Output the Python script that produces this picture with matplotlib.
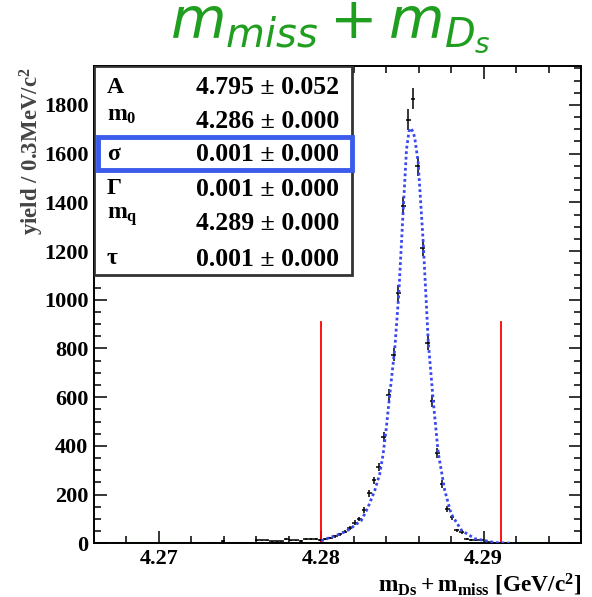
import matplotlib
matplotlib.use("Agg")
import matplotlib.pyplot as plt
import numpy as np
from matplotlib.patches import Rectangle
from matplotlib.ticker import MultipleLocator

plt.rcParams["mathtext.fontset"] = "custom"
plt.rcParams["mathtext.rm"] = "Liberation Serif:bold"
plt.rcParams["mathtext.it"] = "Liberation Serif:bold"
plt.rcParams["mathtext.bf"] = "Liberation Serif:bold"

# histogram: 100 bins of 0.3 MeV starting at 4.266 GeV
bin_lo = 4.266
bin_width = 0.0003
counts = [
    0, 0, 0, 0, 0, 0, 0, 0, 0, 0,
    0, 0, 0, 0, 0, 0, 0, 0, 1, 1,
    0, 0, 0, 1, 1, 0, 10, 3, 0, 2,
    2, 2, 2, 12, 12, 12, 8, 8, 8, 18,
    12, 12, 10, 18, 18, 18, 15, 19, 22, 28,
    38, 48, 62, 85, 100, 137, 205, 258, 313, 436,
    610, 775, 1027, 1385, 1740, 1825, 1548, 1213, 822, 583,
    371, 244, 142, 106, 53, 46, 19, 15, 12, 15,
    5, 5, 3, 0, 0, 0, 0, 0, 0, 0,
    0, 0, 0, 0, 0, 0, 0, 0, 0, 0,
]

# fit curve
fit_x = [4.2800, 4.28062, 4.28123, 4.28175, 4.28247, 4.28288, 4.28329, 4.28360,
         4.28381, 4.28400, 4.28422, 4.28453, 4.28477, 4.28504, 4.28525, 4.28540,
         4.28551, 4.28565, 4.28576, 4.28597, 4.28628, 4.28659, 4.28690, 4.28720,
         4.28761, 4.28800, 4.28864, 4.28946, 4.29070, 4.29180]
fit_y = [10, 26, 40, 58, 94, 148, 216, 284,
         366, 470, 611, 801, 1019, 1359, 1617, 1690,
         1705, 1690, 1665, 1563, 1236, 828, 583, 373,
         216, 121, 53, 19, 3, 0]

cut_lines = [4.2800, 4.2911]
cut_height = 910

stat_names = ["A", r"$\mathrm{m_0}$", "σ", "Γ", r"$\mathrm{m_q}$", "τ"]
stat_values = ["4.795 ± 0.052", "4.286 ± 0.000", "0.001 ± 0.000",
               "0.001 ± 0.000", "4.289 ± 0.000", "0.001 ± 0.000"]

serif = "Liberation Serif"

counts = np.asarray(counts, dtype=float)
centers = bin_lo + bin_width * (np.arange(len(counts)) + 0.5)
keep = counts > 0

fig = plt.figure(figsize=(5.92, 5.97), dpi=100)
ax = fig.add_axes([94 / 592, 1 - 543.3 / 597, 487 / 592, 477.3 / 597])

ax.axhline(0, color="#33ee33", lw=2.2, zorder=1)
ax.errorbar(centers[keep], counts[keep], yerr=np.sqrt(counts[keep]),
            xerr=bin_width / 2, fmt="none", ecolor="black", elinewidth=1.1, zorder=3)
ax.plot(fit_x, fit_y, color="#3a48f0", lw=2, dashes=(1, 1), zorder=4)
for xc in cut_lines:
    ax.plot([xc, xc], [0, cut_height], color="red", lw=1.3, zorder=2)

ax.set_xlim(4.266, 4.296)
ax.set_ylim(0, 1960)
ax.xaxis.set_major_locator(MultipleLocator(0.01))
ax.xaxis.set_minor_locator(MultipleLocator(0.002))
ax.yaxis.set_major_locator(MultipleLocator(200))
ax.yaxis.set_minor_locator(MultipleLocator(50))
ax.tick_params(which="both", direction="in", top=True, right=True, width=1.1)
ax.tick_params(which="major", length=9, labelsize=16, pad=4)
ax.tick_params(which="minor", length=5)
for lab in ax.get_xticklabels() + ax.get_yticklabels():
    lab.set_fontfamily(serif)
    lab.set_fontweight("bold")
for sp in ax.spines.values():
    sp.set_linewidth(1.4)

ax.set_xlabel(r"$\mathrm{m_{Ds} + m_{miss}}$ [GeV/c$\mathrm{^2}$]", fontfamily=serif,
              fontweight="bold", fontsize=16.8, math_fontfamily="custom")
ax.xaxis.set_label_coords(1.0, -0.06)
ax.xaxis.label.set_ha("right")
ax.text(-62 / 487, 1.0 - 1 / 477.3, r"yield / 0.3MeV/c$\mathrm{^2}$", transform=ax.transAxes,
        rotation=90, ha="center", va="top", fontfamily=serif, fontweight="bold",
        fontsize=16.5, color="#444444", math_fontfamily="custom")

# stats box
ax.add_patch(Rectangle((0, 0.562), 0.53, 0.438, transform=ax.transAxes,
                       facecolor="white", edgecolor="#333333", lw=2, zorder=5))
label_rows = [87, 116, 154, 188, 217, 259]
value_rows = [87, 121, 154, 189, 223, 259]
for name, val, ly, vy in zip(stat_names, stat_values, label_rows, value_rows):
    ax.text((107 - 94) / 487, (543.3 - ly) / 477.3, name, transform=ax.transAxes,
            ha="left", va="center", fontfamily=serif, fontweight="bold", fontsize=17,
            math_fontfamily="custom", zorder=6)
    ax.text((339 - 94) / 487, (543.3 - vy) / 477.3, val, transform=ax.transAxes,
            ha="right", va="center", fontfamily=serif, fontweight="bold", fontsize=18.5,
            zorder=6)
ax.add_patch(Rectangle((4 / 487, (543.3 - 170) / 477.3), (352 - 98) / 487, 33 / 477.3,
                       transform=ax.transAxes, facecolor="none", edgecolor="#3b5bea",
                       lw=3.5, zorder=7, clip_on=False))

fig.text(330 / 592, 1 - 1 / 597, r"$m_{miss} + m_{D_s}$", ha="center", va="top",
         fontsize=41, color="#1f9e1f", math_fontfamily="dejavusans")

fig.savefig("out.png", dpi=100)
